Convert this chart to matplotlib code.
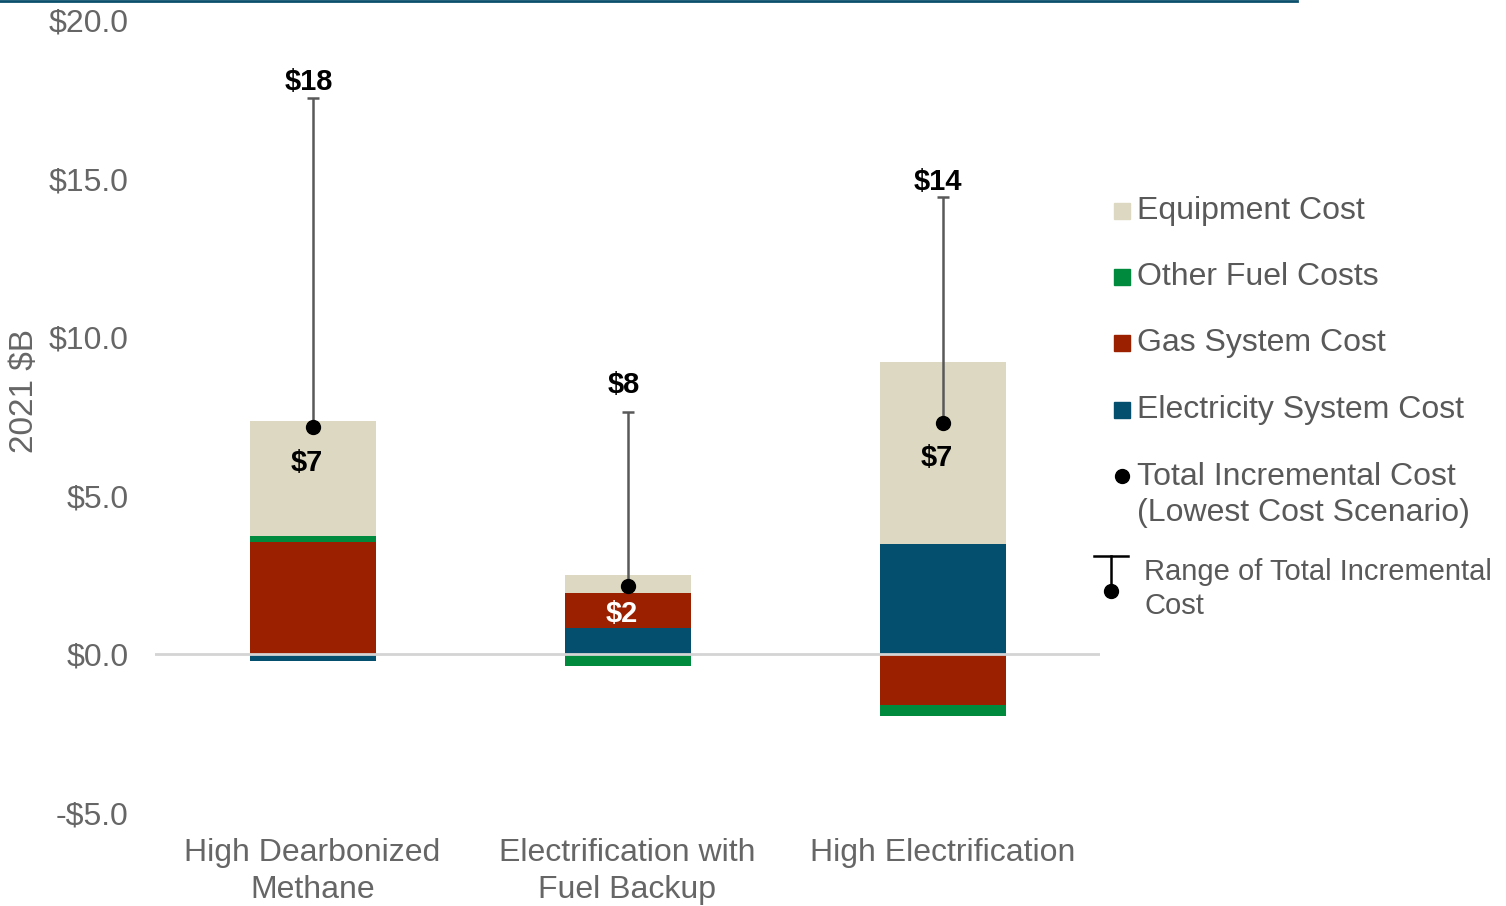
import matplotlib.pyplot as plt
import matplotlib.patches as mpatches
from matplotlib.lines import Line2D
import numpy as np

plt.rcParams['font.family'] = ['Liberation Sans', 'DejaVu Sans']

# scenario data, 2021 $B
categories = ['High Dearbonized\nMethane', 'Electrification with\nFuel Backup', 'High Electrification']
electricity = [-0.2, 0.82, 3.47]
gas = [3.53, 1.1, -1.61]
other_fuel = [0.19, -0.35, -0.32]
equipment = [3.63, 0.57, 5.74]
total_lowest = [7.16, 2.15, 7.29]
range_high = [17.55, 7.63, 14.42]
low_labels = ['$7', '$2', '$7']
high_labels = ['$18', '$8', '$14']

c_equip = '#dcd8c1'
c_other = '#008a3e'
c_gas = '#9b2000'
c_elec = '#044f6e'
grey_txt = '#666666'
leg_txt = '#595959'
fs = 23

W, H = 1506, 906
fig = plt.figure(figsize=(W / 100, H / 100), dpi=100)


def fx(px):
    return px / W


def fy(py):
    return 1 - py / H


ax = fig.add_axes([fx(155), fy(813), fx(1100) - fx(155), fy(20) - fy(813)])

x = np.arange(len(categories))
bw = 0.40
elec = np.array(electricity)
gs = np.array(gas)
oth = np.array(other_fuel)
eq = np.array(equipment)

# stack positives upward and negatives downward
pos_base = np.zeros(len(x))
neg_base = np.zeros(len(x))
for vals, col in [(elec, c_elec), (gs, c_gas), (oth, c_other), (eq, c_equip)]:
    bottoms = np.where(vals >= 0, pos_base, neg_base)
    ax.bar(x, vals, bw, bottom=bottoms, color=col, linewidth=0, zorder=2)
    pos_base = pos_base + np.where(vals >= 0, vals, 0)
    neg_base = neg_base + np.where(vals < 0, vals, 0)

ax.axhline(0, color='#d4d4d4', lw=2, zorder=3)

tl = np.array(total_lowest)
rh = np.array(range_high)
ax.errorbar(x, tl, yerr=[np.zeros(len(x)), rh - tl], fmt='none', ecolor='#595959',
            elinewidth=1.8, capsize=4.5, capthick=1.8, zorder=4)
ax.plot(x, tl, 'o', color='black', ms=10, zorder=5)

# label offsets in points
hi_off = [11, 20, 11]
lo_off = [-26, -20, -25]
for i in range(len(x)):
    ax.annotate(high_labels[i], (x[i], rh[i]), xytext=(-3, hi_off[i]), textcoords='offset points',
                ha='center', va='center', fontsize=21, fontweight='bold', color='black')
    ax.annotate(low_labels[i], (x[i], tl[i]), xytext=(-4, lo_off[i]), textcoords='offset points',
                ha='center', va='center', fontsize=21, fontweight='bold',
                color='white' if i == 1 else 'black')

ax.set_xlim(-0.5, 2.5)
ax.set_ylim(-5, 20)
ax.set_yticks([-5, 0, 5, 10, 15, 20])
ax.set_yticklabels(['-$5.0', '$0.0', '$5.0', '$10.0', '$15.0', '$20.0'])
ax.set_xticks(x)
ax.set_xticklabels(categories, linespacing=1.3)
ax.tick_params(axis='both', length=0, labelsize=fs, labelcolor=grey_txt)
ax.tick_params(axis='y', pad=19)
ax.tick_params(axis='x', pad=18)
for s in ax.spines.values():
    s.set_visible(False)

fig.text(fx(24), fy(391), '2021 $B', rotation=90, ha='center', va='center',
         fontsize=24, color=grey_txt)

# top rule
fig.add_artist(Line2D([0, fx(1297)], [fy(1), fy(1)], color='#0b4f6c', lw=2))

# legend drawn by hand
sq = 16
legend_items = [('Equipment Cost', c_equip, 211), ('Other Fuel Costs', c_other, 277),
                ('Gas System Cost', c_gas, 343), ('Electricity System Cost', c_elec, 410)]
for lab, col, py in legend_items:
    fig.add_artist(mpatches.Rectangle((fx(1122 - sq / 2), fy(py + sq / 2)), fx(sq), sq / H,
                                      color=col, transform=fig.transFigure))
    fig.text(fx(1137), fy(py), lab, ha='left', va='center', fontsize=fs, color=leg_txt)

fig.add_artist(Line2D([fx(1122)], [fy(476)], marker='o', color='black', ms=10))
fig.text(fx(1137), fy(495), 'Total Incremental Cost\n(Lowest Cost Scenario)', ha='left',
         va='center', fontsize=fs, color=leg_txt, linespacing=1.3)

fig.add_artist(Line2D([fx(1094), fx(1128)], [fy(556), fy(556)], color='black', lw=1.8))
fig.add_artist(Line2D([fx(1111), fx(1111)], [fy(556), fy(590)], color='black', lw=1.8))
fig.add_artist(Line2D([fx(1111)], [fy(591)], marker='o', color='black', ms=10))
fig.text(fx(1144), fy(589), 'Range of Total Incremental\nCost', ha='left',
         va='center', fontsize=21, color=leg_txt, linespacing=1.3)

fig.savefig('out.png', dpi=100)
